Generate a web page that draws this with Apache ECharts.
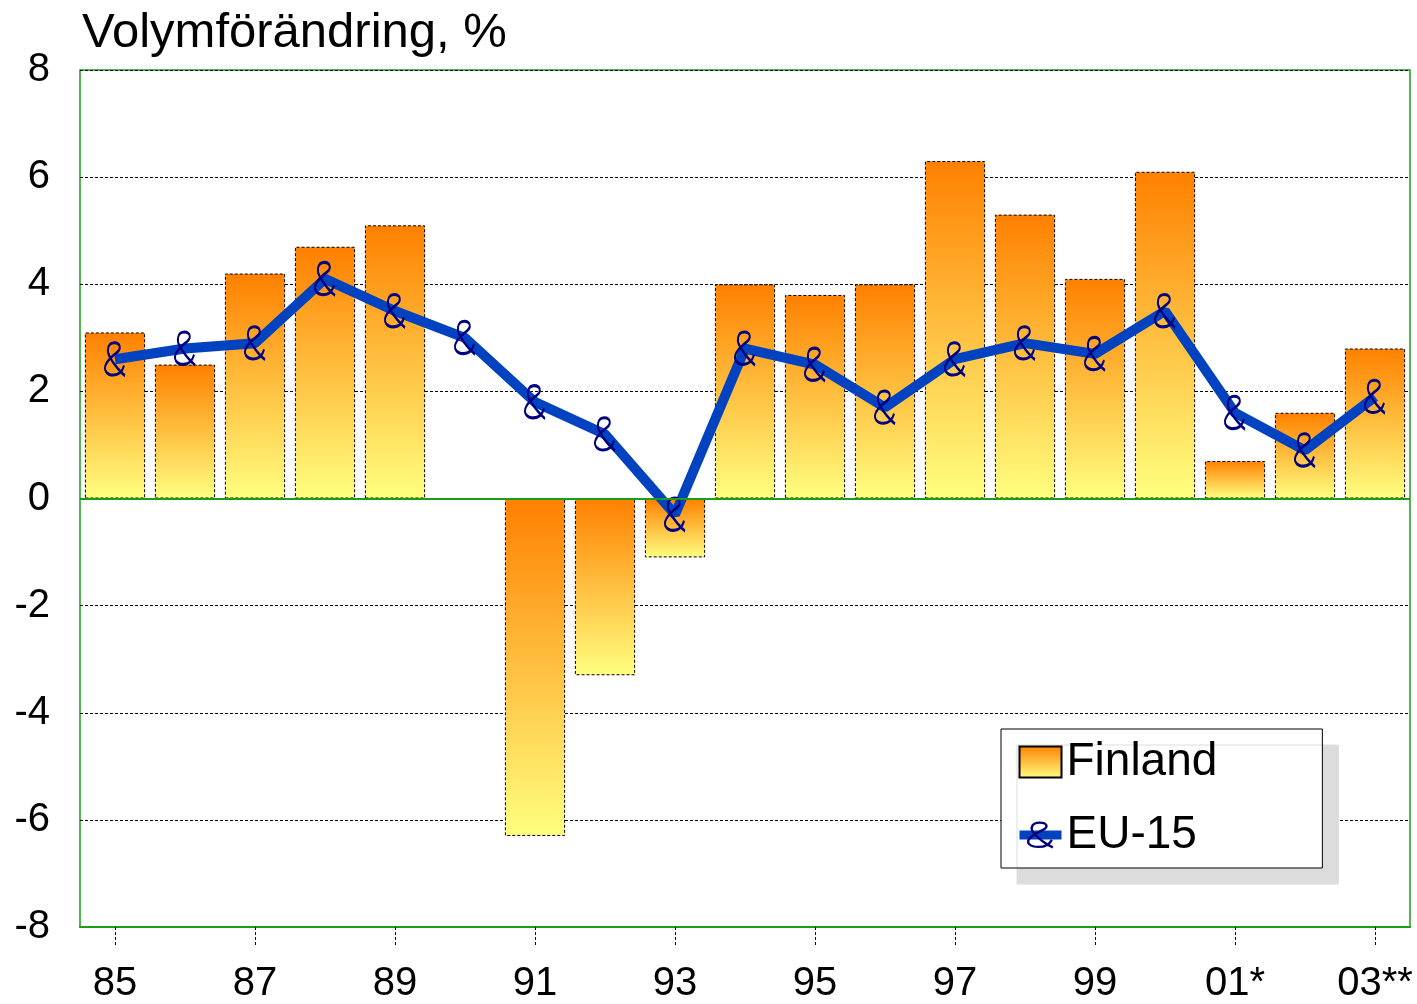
<!DOCTYPE html>
<html><head><meta charset="utf-8">
<script src="https://cdn.jsdelivr.net/npm/echarts@6/dist/echarts.min.js"></script>
<style>html,body{margin:0;padding:0;background:#fff}#c{width:1417px;height:1004px}</style>
</head><body><div id="c"></div>
<script>
const categories = ['85','86','87','88','89','90','91','92','93','94','95','96','97','98','99','00','01*','02*','03**'];
const finland = [3.1,2.5,4.2,4.7,5.1,0.0,-6.3,-3.3,-1.1,4.0,3.8,4.0,6.3,5.3,4.1,6.1,0.7,1.6,2.8];
const eu15 = [2.6,2.8,2.9,4.1,3.5,3.0,1.8,1.2,-0.3,2.8,2.5,1.7,2.6,2.9,2.7,3.5,1.6,0.9,1.9];
const yMin = -8, yMax = 8, yInterval = 2;
const titleText = 'Volymförändring, %';
const seriesNames = ['Finland','EU-15'];

const FONT = "'Liberation Sans', Arial, sans-serif";
const GREEN = '#1a9e1a';
const BLUE = '#0042c0';
const NAVY = '#000080';
// ampersand-shaped marker glyph (stroke only)
const AMP = 'path://M50 100 C40 90 24 66 16 46 C8 30 10 4 26 4 C40 4 42 22 32 32 C24 40 14 50 8 64 C0 82 8 98 24 98 C36 98 44 88 48 70';
const barGradient = new echarts.graphic.LinearGradient(0,0,0,1,[
  {offset:0,color:'#ff8000'},{offset:1,color:'#ffff80'}
]);

const chart = echarts.init(document.getElementById('c'), null, {renderer:'canvas'});
chart.setOption({
  animation:false,
  backgroundColor:'#fff',
  title:{text:titleText,left:82,top:9,padding:0,
    textStyle:{fontFamily:FONT,fontSize:49,fontWeight:'normal',color:'#000'}},
  grid:{left:80,right:7,top:70,bottom:74,show:true,borderColor:GREEN,borderWidth:1.5,backgroundColor:'transparent'},
  legend:{
    orient:'vertical',left:1001,top:729,
    padding:[8,105,8,14],
    itemWidth:42,itemHeight:31,itemGap:23,
    backgroundColor:'#fff',borderColor:'#000',borderWidth:1,
    shadowColor:'#dcdcdc',shadowBlur:0,shadowOffsetX:16,shadowOffsetY:16,
    textStyle:{fontFamily:FONT,fontSize:46,color:'#000',lineHeight:50},
    lineStyle:{width:9},
    data:[{name:seriesNames[0],icon:'rect'},
          {name:seriesNames[1],itemStyle:{color:'rgba(0,0,0,0)',borderColor:NAVY,borderWidth:2.4}}]
  },
  xAxis:{
    type:'category',data:categories,boundaryGap:true,
    axisLine:{onZero:false,lineStyle:{color:GREEN,width:2}},
    axisTick:{show:true,interval:1,alignWithLabel:true,length:19,lineStyle:{color:'#000',type:[3,2],width:1}},
    axisLabel:{interval:1,margin:37,fontFamily:FONT,fontSize:40,color:'#000'},
    splitLine:{show:false}
  },
  yAxis:{
    type:'value',min:yMin,max:yMax,interval:yInterval,
    axisLine:{show:false},axisTick:{show:false},
    axisLabel:{margin:30,fontFamily:FONT,fontSize:40,color:'#000'},
    splitLine:{show:true,lineStyle:{color:'#000',type:[3,2],width:1}}
  },
  series:[
    {name:seriesNames[0],type:'bar',data:finland,barCategoryGap:'14%',
     itemStyle:{color:barGradient,borderColor:'#000',borderWidth:1,borderType:[3,2]},
     emphasis:{disabled:true},
     markLine:{silent:true,symbol:['none','none'],label:{show:false},
       lineStyle:{color:GREEN,type:'solid',width:2},data:[{yAxis:0}]}
    },
    {name:seriesNames[1],type:'line',data:eu15,symbol:AMP,symbolSize:[20,33],symbolKeepAspect:false,
     lineStyle:{color:BLUE,width:10},
     itemStyle:{color:'rgba(0,0,0,0)',borderColor:NAVY,borderWidth:2.4},
     emphasis:{disabled:true}
    }
  ]
});
</script></body></html>
